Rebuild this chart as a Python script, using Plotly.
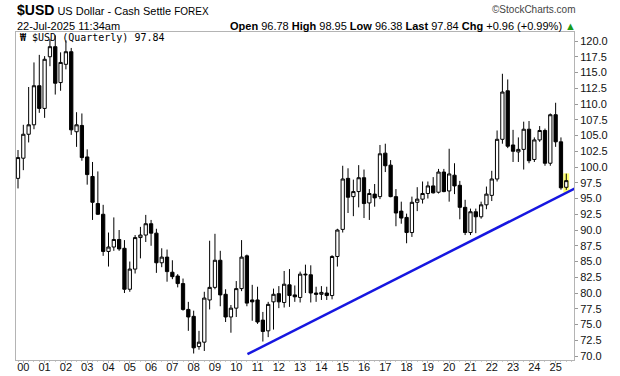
import plotly.graph_objects as go

# ---------------- data ----------------
quarters = ["1999Q4"] + [f"{y}Q{q}" for y in range(2000, 2026) for q in range(1, 5)][:-1]
quarters = quarters[:104]

opens = [98.2, 101.4, 105.2, 106.7, 112.9, 109.3, 117.5, 119.1, 113.4, 116.3,
         118.3, 105.6, 106.6, 101.6, 98.5, 94.2, 92.5, 86.6, 87.3, 88.5,
         87.1, 80.6, 83.8, 88.8, 89.2, 91.0, 89.5, 84.8, 85.7, 83.3,
         82.7, 81.5, 77.4, 76.3, 71.5, 72.2, 78.9, 80.9, 85.2, 79.8,
         76.2, 77.6, 80.7, 85.9, 78.9, 78.9, 75.7, 74.0, 78.6, 79.9,
         78.5, 81.3, 79.7, 79.3, 83.0, 82.9, 80.0, 79.8, 80.0, 79.6,
         85.8, 90.1, 98.2, 95.3, 96.1, 98.3, 94.3, 95.7, 95.3, 102.2,
         100.3, 95.3, 93.0, 92.0, 89.6, 94.4, 94.9, 95.8, 97.0, 96.0,
         99.2, 96.2, 98.7, 97.1, 93.6, 89.6, 92.9, 92.1, 94.0, 95.5,
         98.1, 104.4, 112.1, 103.5, 102.4, 102.8, 106.0, 101.2, 104.3, 105.8,
         100.6, 108.3, 104.0, 96.78]
highs = [102.7, 106.7, 112.7, 116.6, 117.8, 117.6, 120.3, 120.9, 118.2, 120.1,
         118.9, 108.7, 108.5, 102.8, 100.8, 99.3, 94.0, 89.6, 92.0, 90.0,
         88.4, 85.0, 89.2, 90.5, 92.4, 91.6, 90.2, 87.1, 86.9, 85.2,
         83.0, 82.3, 78.6, 77.2, 74.0, 80.2, 88.3, 89.4, 86.7, 80.6,
         78.1, 81.9, 88.4, 86.1, 81.3, 81.0, 77.0, 78.6, 80.7, 81.1,
         83.5, 83.8, 81.2, 83.4, 84.5, 84.4, 81.0, 81.1, 81.0, 86.0,
         90.2, 100.2, 99.8, 98.0, 100.3, 99.6, 96.5, 97.3, 103.5, 103.7,
         101.1, 96.5, 94.5, 92.6, 95.3, 96.8, 97.7, 97.7, 98.4, 99.7,
         99.7, 102.9, 100.6, 97.8, 94.8, 93.4, 93.4, 94.5, 96.9, 99.4,
         105.8, 114.8, 113.9, 105.9, 104.7, 107.2, 107.3, 104.7, 106.5, 106.1,
         108.5, 110.2, 104.7, 98.95]
lows = [96.6, 99.5, 103.9, 106.0, 108.6, 107.8, 116.0, 111.5, 112.1, 115.5,
        105.1, 103.2, 101.0, 97.2, 91.6, 92.4, 85.9, 84.2, 86.7, 86.7,
        80.0, 80.2, 83.1, 85.5, 88.1, 87.5, 83.2, 84.1, 81.8, 82.2,
        80.9, 77.2, 74.0, 70.4, 71.0, 70.8, 77.4, 80.6, 77.9, 75.4,
        73.7, 76.2, 80.3, 77.9, 75.6, 75.1, 72.3, 73.0, 74.2, 77.6,
        77.7, 77.8, 78.6, 78.5, 80.0, 78.5, 78.6, 78.9, 78.9, 79.0,
        84.2, 89.6, 92.7, 92.2, 93.6, 91.9, 91.6, 93.7, 94.9, 99.2,
        95.2, 90.6, 91.0, 87.9, 88.9, 93.0, 94.2, 95.0, 95.8, 95.8,
        96.0, 94.5, 95.7, 91.7, 89.2, 89.2, 89.5, 91.8, 93.3, 94.6,
        97.7, 103.7, 103.0, 100.8, 100.8, 99.6, 100.6, 100.8, 104.0, 100.2,
        100.2, 103.2, 96.4, 96.38]
closes = [101.5, 105.2, 106.7, 112.9, 109.3, 117.1, 119.1, 113.3, 116.6, 118.3,
          105.9, 106.7, 101.5, 98.8, 94.4, 92.5, 86.6, 87.3, 88.5, 87.0,
          80.6, 83.8, 88.8, 89.2, 91.0, 89.5, 84.8, 85.7, 83.4, 82.6,
          81.5, 77.4, 76.2, 71.3, 72.2, 79.2, 80.9, 85.2, 79.7, 76.2,
          77.6, 80.7, 85.7, 78.4, 78.6, 75.4, 73.9, 78.2, 79.8, 78.6,
          81.4, 79.6, 79.4, 83.0, 82.9, 80.0, 79.8, 80.1, 79.6, 85.8,
          90.0, 98.1, 95.2, 96.1, 98.3, 94.2, 95.8, 95.1, 102.1, 100.2,
          95.3, 92.7, 91.9, 89.6, 94.4, 94.9, 95.8, 97.0, 95.9, 99.2,
          96.1, 98.9, 97.0, 93.6, 89.6, 92.9, 92.1, 94.0, 95.7, 98.1,
          104.4, 111.9, 103.3, 102.5, 102.8, 106.0, 101.0, 104.3, 105.8, 100.6,
          108.3, 104.0, 96.7, 97.84]

year_labels = [f"{y:02d}" for y in range(0, 26)]

# trend line anchors (quarter index, price)
trend_x = [43.1, 105.2]
trend_y = [70.3, 96.85]

header_quote = dict(Open="96.78", High="98.95", Low="96.38", Last="97.84", Chg="+0.96 (+0.99%)")

# ---------------- figure ----------------
x = list(range(len(quarters)))
tick_idx = [quarters.index(f"20{yl}Q1") for yl in year_labels]

fig = go.Figure()

# highlight of the latest bar
last = len(quarters) - 1
fig.add_shape(type="rect", xref="x", yref="y",
              x0=last - 0.55, x1=last + 0.55,
              y0=lows[last] - 0.45, y1=highs[last] + 0.05,
              fillcolor="#ffff70", line_width=0, layer="below")

fig.add_trace(go.Candlestick(
    x=x, open=opens, high=highs, low=lows, close=closes,
    increasing=dict(line=dict(color="black", width=1), fillcolor="white"),
    decreasing=dict(line=dict(color="black", width=1), fillcolor="black"),
    whiskerwidth=0, hoverinfo="skip", showlegend=False,
))

fig.add_trace(go.Scatter(
    x=trend_x, y=trend_y, mode="lines",
    line=dict(color="#1616e0", width=2.5), hoverinfo="skip", showlegend=False,
))

L, R, T, B = 16, 46, 32, 16
W, H = 620, 376
pw, ph = W - L - R, H - T - B


def px(xp):
    return (xp - L) / pw


def py(yp):
    return (H - B - yp) / ph


font = "Liberation Sans, Arial, sans-serif"

fig.update_layout(
    width=W, height=H,
    margin=dict(l=L, r=R, t=T, b=B, pad=0, autoexpand=False),
    paper_bgcolor="white", plot_bgcolor="white",
    showlegend=False, boxgap=0.12,
    font=dict(family=font, size=11, color="#000"),
    xaxis=dict(
        range=[-0.376, 104.45], rangeslider=dict(visible=False),
        automargin=False,
        showgrid=False, zeroline=False,
        showline=True, linecolor="#b4b4b4", linewidth=1, mirror=True,
        tickmode="array", tickvals=tick_idx, ticktext=year_labels,
        ticks="outside", ticklen=2, tickcolor="#b4b4b4",
        ticklabelstandoff=-5,
        minor=dict(tickmode="linear", tick0=0, dtick=1, ticks="outside",
                   ticklen=1, tickcolor="#c8c8c8"),
        tickfont=dict(family=font, size=11, color="#111"),
    ),
    yaxis=dict(
        side="right", range=[69.37, 121.43], automargin=False,
        tickmode="linear", tick0=70, dtick=2.5, tickformat=".1f",
        showgrid=False, zeroline=False,
        showline=True, linecolor="#b4b4b4", linewidth=1, mirror=True,
        ticks="outside", ticklen=3, tickcolor="#999",
        tickfont=dict(family=font, size=11, color="#111"),
    ),
)

ann = [
    dict(x=px(15), y=py(10), xanchor="left", yanchor="middle",
         text="<b><span style='font-size:14px'>$USD</span></b> US Dollar - Cash Settle "
              "<span style='font-size:10px'>FOREX</span>",
         font=dict(family=font, size=11, color="#000")),
    dict(x=px(578), y=py(10), xanchor="right", yanchor="middle",
         text="©StockCharts.com", font=dict(family=font, size=10, color="#444")),
    dict(x=px(15), y=py(26), xanchor="left", yanchor="middle",
         text="22-Jul-2025 11:34am", font=dict(family=font, size=11, color="#000")),
    dict(x=px(578), y=py(26), xanchor="right", yanchor="middle",
         text=" ".join(f"<b>{k}</b> {v}" for k, v in header_quote.items())
              + " <span style='color:#1a9a1a'>▲</span>",
         font=dict(family=font, size=11, color="#000")),
    dict(x=px(18), y=py(37.5), xanchor="left", yanchor="middle",
         text="<b>₩</b> $USD (Quarterly) 97.84",
         font=dict(family="DejaVu Sans Mono, monospace", size=10, color="#000")),
]
for a in ann:
    a.update(xref="paper", yref="paper", showarrow=False)
fig.update_layout(annotations=ann)

fig.write_html("out.html")
